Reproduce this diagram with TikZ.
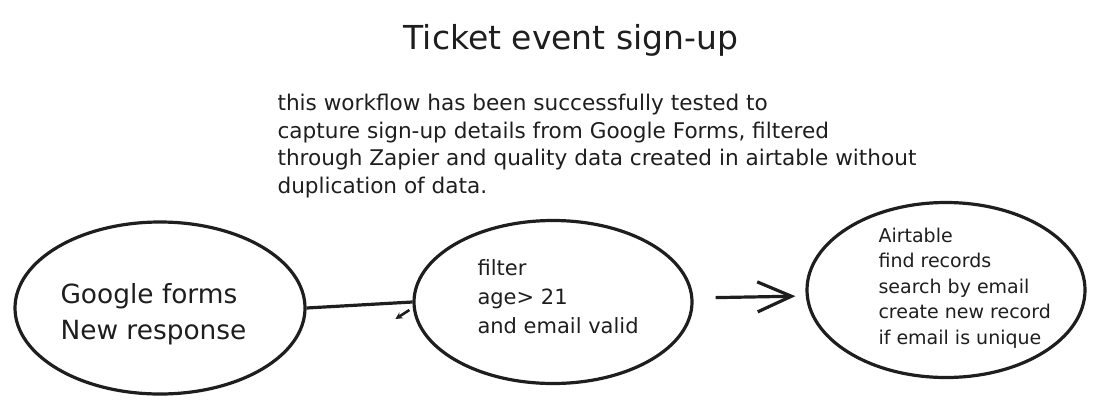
\documentclass[tikz,border=0pt]{standalone}
\usepackage{fontspec}
\setmainfont{DejaVu Sans}
\usetikzlibrary{shapes.geometric, arrows.meta, positioning}
\definecolor{ink}{HTML}{1E1E1E}

\begin{document}
\begin{tikzpicture}[x=1pt, y=-1pt, color=ink,
	stage/.style={ellipse, draw, line width=3.2pt, inner sep=0pt},
	stagetext/.style={anchor=west, align=left},
	flow/.style={line width=3.2pt}]
	\useasboundingbox (0,0) rectangle (1100,410);
	% title and note
	\node[font=\fontsize{33}{38}\selectfont] (title) at (571,40) {Ticket event sign-up};
	\node[anchor=north west, align=left, font=\fontsize{21.6}{27.5}\selectfont] (note) at (274,91)
		{this workflow has been successfully tested to\\
		capture sign-up details from Google Forms, filtered\\
		through Zapier and quality data created in airtable without\\
		duplication of data.};
	% the three steps
	\node[stage, minimum width=290pt, minimum height=172pt] (forms) at (160,308) {};
	\node[stagetext, font=\fontsize{26.4}{36}\selectfont] (formstext) at (57,314) {Google forms\\New response};
	\node[stage, minimum width=278pt, minimum height=163pt] (filter) at (553,302) {};
	\node[stagetext, font=\fontsize{21}{29}\selectfont] (filtertext) at (474,297) {filter\\age> 21\\and email valid};
	\node[stage, minimum width=278pt, minimum height=175pt] (airtable) at (946,290) {};
	\node[stagetext, font=\fontsize{19}{25.5}\selectfont] (airtabletext) at (875,288)
		{Airtable\\find records\\search by email\\create new record\\if email is unique};
	% connectors
	\draw[flow] (forms.east) -- (filter.west);
	\draw[line width=2.6pt, -{Stealth[length=7pt, width=7pt]}] ([shift={(-3,8)}]filter.west) -- ++(-14,9);
	\draw[flow, shorten <=22pt, shorten >=10pt, -{Straight Barb[length=34pt, width=30pt]}]
		([yshift=4pt]filter.east) -- ([yshift=-6pt]airtable.west);
\end{tikzpicture}
\end{document}
